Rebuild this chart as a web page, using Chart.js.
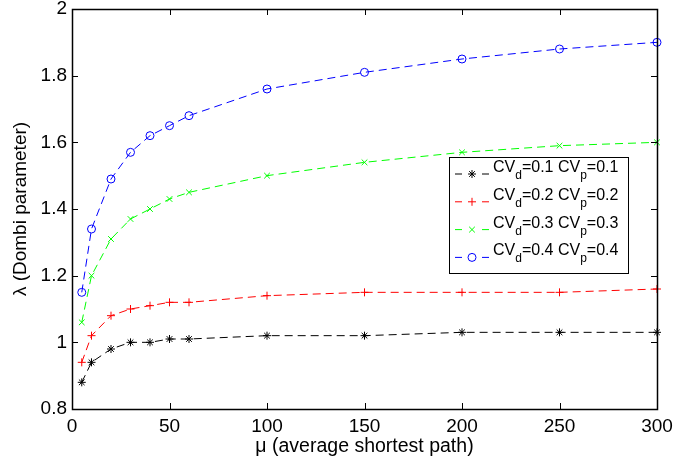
<html>
<head>
<style>
  body { margin: 0; background: #fff; }
  #wrap { width: 674px; height: 461px; }
</style>
</head>
<body>
<div id="wrap">
  <canvas id="myChart"></canvas>
</div>

<script src="https://cdn.jsdelivr.net/npm/chart.js"></script>

<script>
  // mu values on the x axis
  const muValues = [5, 10, 20, 30, 40, 50, 60, 100, 150, 200, 250, 300];

  // lambda for each CV setting
  const lambda01 = [0.88, 0.94, 0.98, 1.00, 1.00, 1.01, 1.01, 1.02, 1.02, 1.03, 1.03, 1.03];
  const lambda02 = [0.94, 1.02, 1.08, 1.10, 1.11, 1.12, 1.12, 1.14, 1.15, 1.15, 1.15, 1.16];
  const lambda03 = [1.06, 1.20, 1.31, 1.37, 1.40, 1.43, 1.45, 1.50, 1.54, 1.57, 1.59, 1.60];
  const lambda04 = [1.15, 1.34, 1.49, 1.57, 1.62, 1.65, 1.68, 1.76, 1.81, 1.85, 1.88, 1.90];

  const cvD = [0.1, 0.2, 0.3, 0.4];
  const cvP = [0.1, 0.2, 0.3, 0.4];

  const xTicks = [0, 50, 100, 150, 200, 250, 300];
  const yTicks = [0.8, 1, 1.2, 1.4, 1.6, 1.8, 2];

  const FONT = "'Liberation Sans', Arial, Helvetica, sans-serif";

  function toXY(ys) {
    return muValues.map((x, i) => ({ x: x, y: ys[i] }));
  }

  function series(ys, color, style) {
    return {
      data: toXY(ys),
      borderColor: color,
      backgroundColor: color,
      borderWidth: 1,
      borderDash: [8, 5],
      pointStyle: style,
      pointRadius: 4,
      pointBorderWidth: 1,
      pointBorderColor: color,
      pointBackgroundColor: style === 'circle' ? 'rgba(0,0,0,0)' : color,
      tension: 0,
      clip: false
    };
  }

  // matlab style box with inward ticks on all four sides
  const boxPlugin = {
    id: 'box',
    afterDraw(chart) {
      const c = chart.ctx, a = chart.chartArea;
      const xs = chart.scales.x, ys = chart.scales.y;
      const len = 6;
      c.save();
      c.strokeStyle = '#000';
      c.lineWidth = 1;
      c.beginPath();
      xTicks.forEach(v => {
        const px = Math.round(xs.getPixelForValue(v)) + 0.5;
        c.moveTo(px, a.bottom); c.lineTo(px, a.bottom - len);
        c.moveTo(px, a.top); c.lineTo(px, a.top + len);
      });
      yTicks.forEach(v => {
        const py = Math.round(ys.getPixelForValue(v)) + 0.5;
        c.moveTo(a.left, py); c.lineTo(a.left + len, py);
        c.moveTo(a.right, py); c.lineTo(a.right - len, py);
      });
      c.stroke();
      c.lineWidth = 1.5;
      c.strokeRect(Math.round(a.left) + 0.5, Math.round(a.top) + 0.5,
                   Math.round(a.right - a.left), Math.round(a.bottom - a.top));
      c.restore();
    }
  };

  // legend with subscripts (CV_d, CV_p)
  const legendPlugin = {
    id: 'subLegend',
    afterDatasetsDraw(chart) {
      const c = chart.ctx, a = chart.chartArea;
      const left = a.left + 377, top = a.top + 148;
      const w = 179, h = 116;
      c.save();
      c.fillStyle = '#fff';
      c.fillRect(left, top, w, h);
      c.strokeStyle = '#000';
      c.lineWidth = 1;
      c.strokeRect(left + 0.5, top + 0.5, w, h);

      chart.data.datasets.forEach((ds, i) => {
        const cy = top + 17 + i * 27.8;
        c.strokeStyle = ds.borderColor;
        c.fillStyle = ds.borderColor;
        c.lineWidth = 1;
        c.beginPath();
        c.moveTo(left + 6, cy); c.lineTo(left + 13, cy);
        c.moveTo(left + 33, cy); c.lineTo(left + 40, cy);
        c.stroke();
        if (ds.pointStyle !== 'circle') {
          Chart.helpers.drawPoint(c, { pointStyle: ds.pointStyle, radius: 4, borderWidth: 1 }, left + 23, cy);
        } else {
          c.beginPath(); c.arc(left + 23, cy, 4, 0, Math.PI * 2); c.stroke();
        }

        // text
        let tx = left + 44;
        const base = cy - 2;
        c.fillStyle = '#000';
        c.textBaseline = 'alphabetic';
        const parts = [
          ['CV', false], ['d', true], ['=' + cvD[i] + ' CV', false], ['p', true], ['=' + cvP[i], false]
        ];
        parts.forEach(p => {
          c.font = (p[1] ? '12px ' : '16px ') + FONT;
          c.fillText(p[0], tx, p[1] ? base + 7 : base);
          tx += c.measureText(p[0]).width;
        });
      });
      c.restore();
    }
  };

  const ctx = document.getElementById('myChart');

  const chart = new Chart(ctx, {
    type: 'line',
    data: {
      datasets: [
        series(lambda01, '#000000', 'star'),
        series(lambda02, '#ff0000', 'cross'),
        series(lambda03, '#00ff00', 'crossRot'),
        series(lambda04, '#0000ff', 'circle')
      ]
    },
    options: {
      responsive: true,
      maintainAspectRatio: false,
      animation: false,
      layout: { padding: { top: 9, right: 17, left: 0, bottom: 0 } },
      plugins: {
        legend: { display: false },
        tooltip: { enabled: false }
      },
      scales: {
        x: {
          type: 'linear',
          min: 0,
          max: 300,
          afterBuildTicks: s => { s.ticks = xTicks.map(v => ({ value: v })); },
          afterFit: s => { s.height = 52; s.paddingLeft = 0; s.paddingRight = 0; },
          grid: { display: false, drawTicks: false },
          border: { display: false },
          ticks: { color: '#000', padding: 6, font: { family: FONT, size: 19 } },
          title: {
            display: true,
            text: 'μ (average shortest path)',
            color: '#000',
            font: { family: FONT, size: 19.5 },
            padding: { top: 0, bottom: 3 }
          }
        },
        y: {
          type: 'linear',
          min: 0.8,
          max: 2,
          afterBuildTicks: s => { s.ticks = yTicks.map(v => ({ value: v })); },
          afterFit: s => { s.width = 72; s.paddingTop = 0; s.paddingBottom = 0; },
          grid: { display: false, drawTicks: false },
          border: { display: false },
          ticks: {
            color: '#000',
            padding: 5,
            font: { family: FONT, size: 19 },
            callback: v => String(Number(v.toFixed(1)))
          },
          title: {
            display: true,
            text: 'λ (Dombi parameter)',
            color: '#000',
            font: { family: FONT, size: 19 },
            padding: { top: 9, bottom: 0 }
          }
        }
      }
    },
    plugins: [boxPlugin, legendPlugin]
  });
</script>
</body>
</html>
